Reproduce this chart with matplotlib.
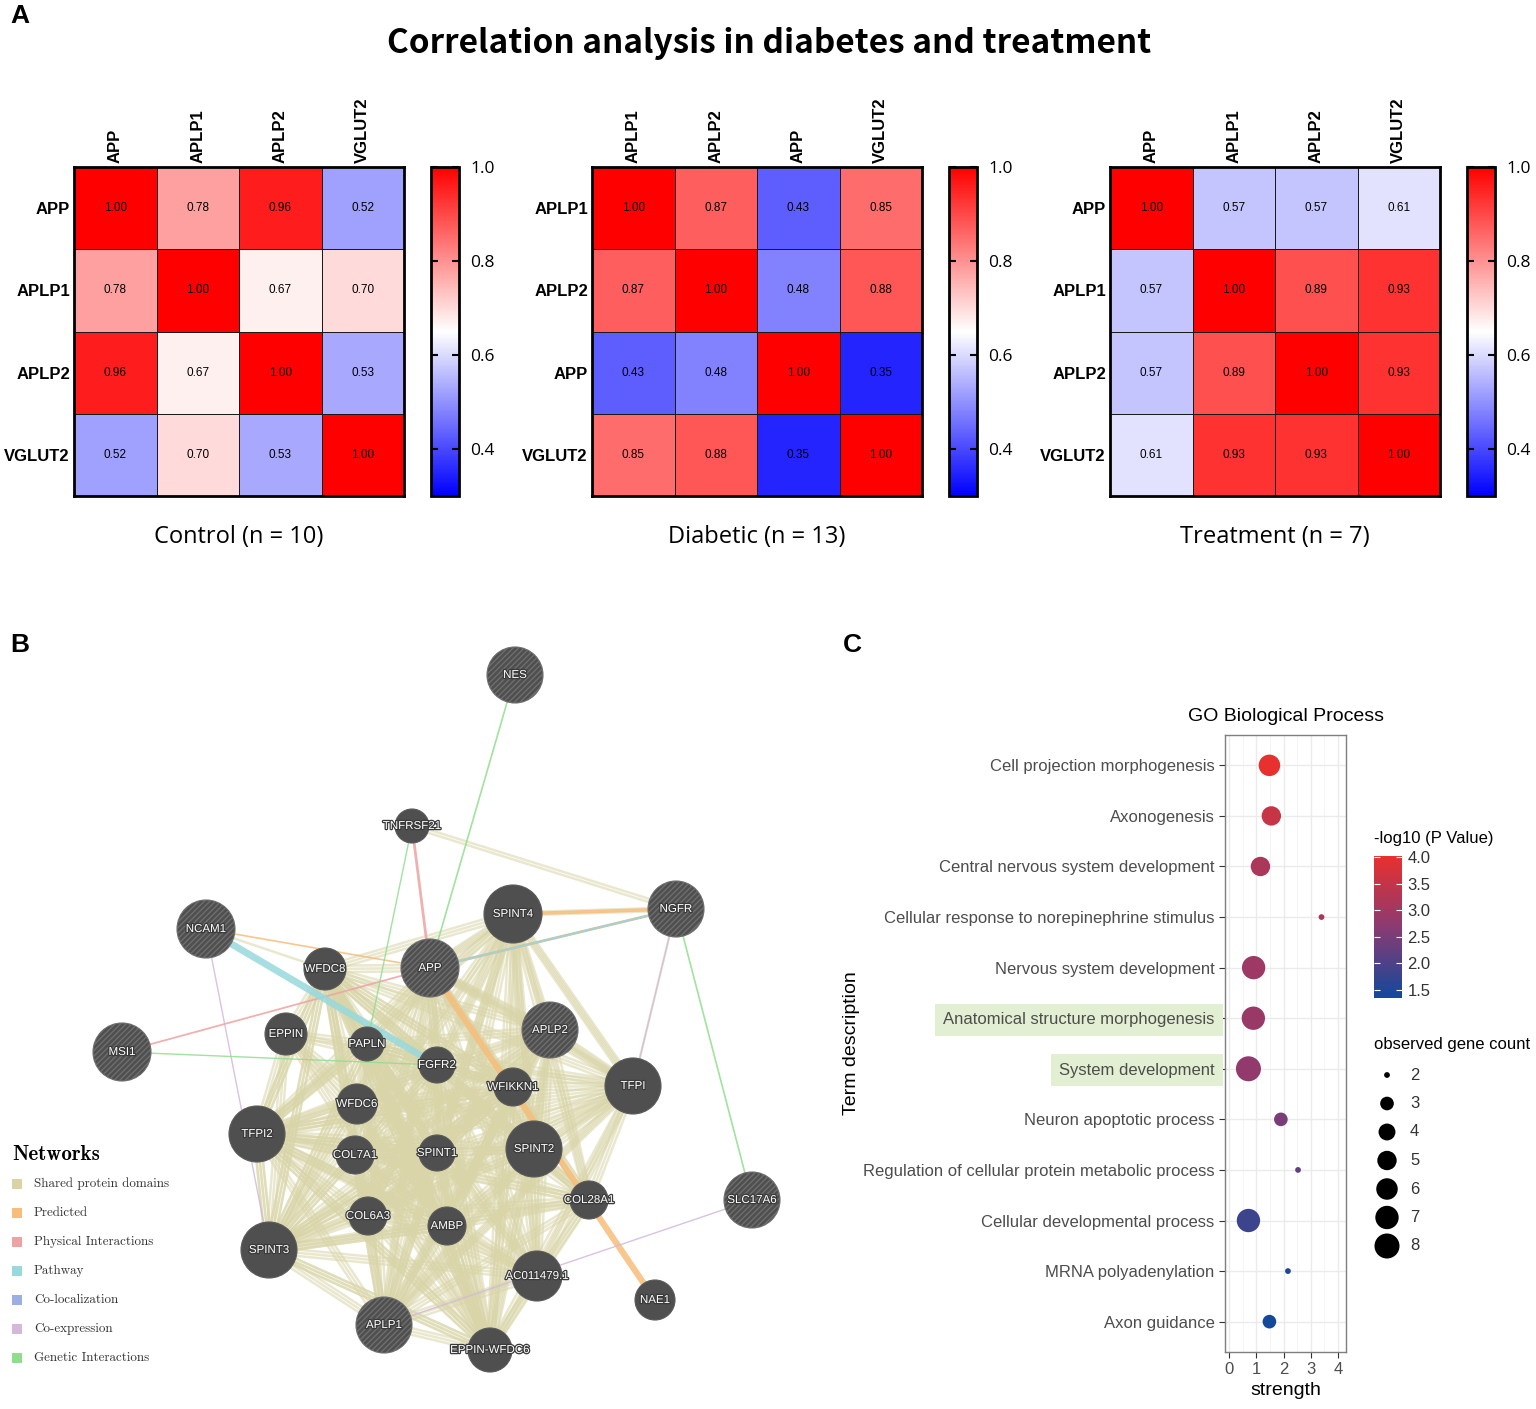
import itertools
import numpy as np
import matplotlib
matplotlib.use("Agg")
import matplotlib.pyplot as plt
import matplotlib.patheffects as pe
from matplotlib.colors import LinearSegmentedColormap, Normalize
from matplotlib.patches import Circle, Rectangle

plt.rcParams['font.family'] = 'Liberation Sans'
plt.rcParams['hatch.linewidth'] = 1.0

# ---------------- data: panel A ----------------
control_genes = ["APP", "APLP1", "APLP2", "VGLUT2"]
control_corr = [[1.00, 0.78, 0.96, 0.52],
                [0.78, 1.00, 0.67, 0.70],
                [0.96, 0.67, 1.00, 0.53],
                [0.52, 0.70, 0.53, 1.00]]

diabetic_genes = ["APLP1", "APLP2", "APP", "VGLUT2"]
diabetic_corr = [[1.00, 0.87, 0.43, 0.85],
                 [0.87, 1.00, 0.48, 0.88],
                 [0.43, 0.48, 1.00, 0.35],
                 [0.85, 0.88, 0.35, 1.00]]

treatment_genes = ["APP", "APLP1", "APLP2", "VGLUT2"]
treatment_corr = [[1.00, 0.57, 0.57, 0.61],
                  [0.57, 1.00, 0.89, 0.93],
                  [0.57, 0.89, 1.00, 0.93],
                  [0.61, 0.93, 0.93, 1.00]]

group_titles = ["Control (n = 10)", "Diabetic (n = 13)", "Treatment (n = 7)"]

# ---------------- data: panel B (GeneMANIA layout) ----------------
gene_names = ["NES", "TNFRSF21", "NGFR", "SPINT4", "NCAM1", "WFDC8", "APP", "APLP2",
              "EPPIN", "PAPLN", "MSI1", "FGFR2", "WFIKKN1", "TFPI", "WFDC6", "TFPI2",
              "COL7A1", "SPINT1", "SPINT2", "COL28A1", "SLC17A6", "COL6A3", "AMBP",
              "SPINT3", "AC011479.1", "NAE1", "APLP1", "EPPIN-WFDC6"]
gene_x = [515, 412, 676, 513, 206, 325, 430, 550, 286, 367, 122, 437, 513, 633, 357, 257,
          355, 437, 534, 589, 752, 368, 447, 269, 537, 655, 384, 490]
gene_y = [675, 826, 909, 914, 929, 969, 968, 1030, 1034, 1044, 1052, 1065, 1087, 1086, 1104,
          1134, 1155, 1153, 1149, 1200, 1200, 1216, 1226, 1250, 1276, 1300, 1325, 1350]
gene_r = [28, 17, 28, 29, 29, 21, 29, 28, 21, 17, 29, 18, 19, 28, 20, 28,
          19, 18, 28, 19, 28, 19, 19, 28, 25, 20, 28, 22]
query_genes = ["NES", "NGFR", "NCAM1", "APP", "APLP2", "MSI1", "SLC17A6", "APLP1"]

# shared protein domain groups (each group is a clique) and number of domain sources
domain_groups = [
    ["APP", "APLP2", "APLP1", "SPINT1", "SPINT2", "SPINT3", "SPINT4", "TFPI", "TFPI2",
     "AMBP", "COL7A1", "COL6A3", "COL28A1", "WFIKKN1", "PAPLN", "AC011479.1",
     "EPPIN-WFDC6", "WFDC8", "FGFR2"],
    ["WFDC8", "WFDC6", "EPPIN", "EPPIN-WFDC6", "WFIKKN1", "PAPLN", "SPINT3", "TFPI2",
     "SPINT1", "AMBP"],
    ["APP", "APLP1", "APLP2", "SPINT4", "SPINT2", "TFPI"],
    ["TNFRSF21", "NGFR"],
    ["NGFR", "SPINT4"],
    ["NGFR", "TFPI"],
    ["NCAM1", "WFDC8"],
]
domain_sources = [3, 3, 2, 2, 2, 1, 1]

network_types = ["Shared protein domains", "Predicted", "Physical Interactions", "Pathway",
                 "Co-localization", "Co-expression", "Genetic Interactions"]
network_colors = ["#d8d4a4", "#f7bd7a", "#eda3a3", "#97d9dc", "#9caee3", "#d3b8dc", "#91dd8e"]

other_edges = [  # (a, b, network type, width)
    ("APP", "NAE1", "Predicted", 4.5),
    ("NGFR", "APP", "Predicted", 2.0),
    ("NGFR", "SPINT4", "Predicted", 2.5),
    ("NCAM1", "APP", "Predicted", 1.2),
    ("TNFRSF21", "APP", "Physical Interactions", 2.0),
    ("MSI1", "APP", "Physical Interactions", 1.3),
    ("NGFR", "APP", "Physical Interactions", 1.3),
    ("NCAM1", "FGFR2", "Pathway", 5.0),
    ("NGFR", "APP", "Pathway", 1.5),
    ("NCAM1", "SPINT3", "Co-expression", 1.0),
    ("SLC17A6", "APLP1", "Co-expression", 1.0),
    ("NGFR", "TFPI", "Co-expression", 1.0),
    ("NES", "APP", "Genetic Interactions", 1.2),
    ("NGFR", "SLC17A6", "Genetic Interactions", 1.2),
    ("MSI1", "FGFR2", "Genetic Interactions", 1.0),
    ("TNFRSF21", "PAPLN", "Genetic Interactions", 1.0),
]

# ---------------- data: panel C ----------------
go_terms = ["Cell projection morphogenesis", "Axonogenesis",
            "Central nervous system development",
            "Cellular response to norepinephrine stimulus", "Nervous system development",
            "Anatomical structure morphogenesis", "System development",
            "Neuron apoptotic process", "Regulation of cellular protein metabolic process",
            "Cellular developmental process", "MRNA polyadenylation", "Axon guidance"]
go_strength = [1.48, 1.55, 1.15, 3.39, 0.90, 0.89, 0.71, 1.90, 2.53, 0.71, 2.16, 1.48]
go_logp = [4.02, 3.55, 3.15, 3.20, 2.95, 2.90, 2.80, 2.50, 2.20, 1.80, 1.45, 1.35]
go_count = [6, 5, 5, 2, 7, 7, 8, 3, 2, 7, 2, 3]
highlighted_terms = ["Anatomical structure morphogenesis", "System development"]
count_breaks = [2, 3, 4, 5, 6, 7, 8]

W, H = 1536, 1409
fig = plt.figure(figsize=(W / 100, H / 100), dpi=100)


def px_axes(x0, y0, x1, y1):
    return fig.add_axes([x0 / W, 1 - y1 / H, (x1 - x0) / W, (y1 - y0) / H])


# ---------------- Panel A: heatmaps ----------------
fig.text(10 / W, 1 - 16 / H, "A", fontsize=19, fontweight="bold", va="center", ha="left")
fig.text(769 / W, 1 - 44 / H, "Correlation analysis in diabetes and treatment",
         fontsize=24, fontweight="bold", family="Noto Sans CJK SC", ha="center", va="center")

heat_sets = [(control_genes, control_corr), (diabetic_genes, diabetic_corr),
             (treatment_genes, treatment_corr)]
heat_left = [74, 592, 1110]
norm = Normalize(vmin=0.3, vmax=1.0)
for k, (genes, corr) in enumerate(heat_sets):
    x0 = heat_left[k]
    ax = px_axes(x0, 167, x0 + 330, 496)
    data = np.array(corr)
    mesh = ax.pcolormesh(data, cmap="bwr", norm=norm, edgecolors="#1a1a1a", linewidth=0.7)
    ax.set_xlim(0, 4)
    ax.set_ylim(4, 0)
    for i in range(4):
        for j in range(4):
            ax.text(j + 0.5, i + 0.5, f"{data[i, j]:.2f}", ha="center", va="center",
                    fontsize=8.5, color="black")
    ax.xaxis.tick_top()
    ax.set_xticks(np.arange(4) + 0.5)
    ax.set_xticklabels(genes, rotation=90, fontsize=12, fontweight="bold")
    ax.set_yticks(np.arange(4) + 0.5)
    ax.set_yticklabels(genes, fontsize=12, fontweight="bold")
    ax.tick_params(length=0, pad=3)
    for s in ax.spines.values():
        s.set_linewidth(2)
    ax.text(0.5, -0.125, group_titles[k], transform=ax.transAxes, ha="center", va="center",
            fontsize=17, family="Open Sans")

    cax = px_axes(x0 + 357, 167, x0 + 385, 496)
    cb = fig.colorbar(mesh, cax=cax, ticks=[0.4, 0.6, 0.8, 1.0])
    cb.ax.set_yticklabels(["0.4", "0.6", "0.8", "1.0"], family="Open Sans", fontsize=12.5)
    cb.ax.tick_params(direction="in", left=True, right=True, length=5, width=1.5, pad=8)
    cb.outline.set_linewidth(2)

# ---------------- Panel B: network ----------------
fig.text(10 / W, 1 - 645 / H, "B", fontsize=19, fontweight="bold", va="center", ha="left")
axn = px_axes(0, 640, 820, H)
axn.set_xlim(0, 820)
axn.set_ylim(H, 640)
axn.axis("off")

pos = {g: np.array([x, y], float) for g, x, y in zip(gene_names, gene_x, gene_y)}
type_color = dict(zip(network_types, network_colors))

for grp, nsrc in zip(domain_groups, domain_sources):
    for a, b in itertools.combinations(grp, 2):
        pa, pb = pos[a], pos[b]
        d = pb - pa
        perp = np.array([-d[1], d[0]]) / np.hypot(*d)
        for m in range(nsrc):
            off = (m - (nsrc - 1) / 2) * 3.2
            qa, qb = pa + perp * off, pb + perp * off
            axn.plot([qa[0], qb[0]], [qa[1], qb[1]], color="#d9d5a8", lw=1.8, alpha=0.55,
                     solid_capstyle="butt", zorder=1)
for a, b, t, w in other_edges:
    (xa, ya), (xb, yb) = pos[a], pos[b]
    axn.plot([xa, xb], [ya, yb], color=type_color[t], lw=w, alpha=0.85, zorder=2)

for g, x, y, r in zip(gene_names, gene_x, gene_y, gene_r):
    if g in query_genes:
        c = Circle((x, y), r, facecolor="#4f4f4f", edgecolor="#6e6e6e", hatch="//////",
                   lw=0.8, zorder=3)
    else:
        c = Circle((x, y), r, facecolor="#4f4f4f", edgecolor="#5a5a5a", lw=0.8, zorder=3)
    axn.add_patch(c)
    axn.text(x, y, g, ha="center", va="center", color="white", fontsize=8.3, zorder=4,
             path_effects=[pe.withStroke(linewidth=1.8, foreground="#3a3a3a")])

axn.text(12, 1155, "Networks", family="cmb10", fontsize=15, va="center", ha="left")
for i, (t, c) in enumerate(zip(network_types, network_colors)):
    yy = 1184 + i * 29
    axn.add_patch(Rectangle((12, yy - 5), 10, 10, facecolor=c, edgecolor="none"))
    axn.text(34, yy, t, family="cmr10", fontsize=9.4, va="center", ha="left", color="#333333")

# ---------------- Panel C: GO dot plot ----------------
fig.text(843 / W, 1 - 645 / H, "C", fontsize=19, fontweight="bold", va="center", ha="left")
axc = px_axes(1225, 735, 1346, 1352)
go_cmap = LinearSegmentedColormap.from_list("go", ["#13489b", "#8a3b72", "#e8302e"])
go_norm = Normalize(vmin=1.35, vmax=4.02)


def size_to_pts2(c):
    d_px = 3.85 * (1 + 5 * np.sqrt((np.asarray(c, float) - 2) / 6) + 0.5)
    return (d_px * 0.72) ** 2


yvals = np.arange(len(go_terms), 0, -1)
axc.set_axisbelow(True)
sc = axc.scatter(go_strength, yvals, s=size_to_pts2(go_count), c=go_logp, cmap=go_cmap,
                 norm=go_norm, edgecolors="none", zorder=3)
axc.set_xlim(-0.15, 4.29)
axc.set_ylim(0.4, 12.6)
axc.set_xticks([0, 1, 2, 3, 4])
axc.set_xticks([0.5, 1.5, 2.5, 3.5], minor=True)
axc.set_yticks(yvals)
axc.set_yticklabels(go_terms, fontsize=12, color="#4d4d4d")
axc.tick_params(axis="x", labelsize=12, labelcolor="#4d4d4d", colors="#333333", length=4)
axc.tick_params(axis="y", colors="#333333", labelcolor="#4d4d4d", length=4)
axc.tick_params(axis="x", which="minor", length=0)
axc.grid(True, which="major", color="#ebebeb", lw=1.0)
axc.grid(True, which="minor", axis="x", color="#f2f2f2", lw=0.6)
for s in axc.spines.values():
    s.set_color("#7f7f7f")
    s.set_linewidth(1.0)
for lab in axc.get_yticklabels():
    if lab.get_text() in highlighted_terms:
        lab.set_bbox(dict(facecolor="#e2efd2", edgecolor="none", pad=6))
axc.set_xlabel("strength", fontsize=14, labelpad=3)
axc.set_ylabel("Term description", fontsize=14, labelpad=2)
axc.set_title("GO Biological Process", fontsize=14, pad=10)

ccax = px_axes(1374, 856, 1402, 998)
cb2 = fig.colorbar(sc, cax=ccax, ticks=[1.5, 2.0, 2.5, 3.0, 3.5, 4.0])
cb2.outline.set_visible(False)
cb2.ax.set_yticklabels(["1.5", "2.0", "2.5", "3.0", "3.5", "4.0"], fontsize=12,
                       color="#333333")
cb2.ax.tick_params(direction="in", left=True, right=True, colors="white", length=4,
                   width=0.8, labelcolor="#333333", pad=4)
fig.text(1374 / W, 1 - 838 / H, "-log10 (P Value)", fontsize=12, va="center", ha="left")

fig.text(1374 / W, 1 - 1044 / H, "observed gene count", fontsize=12, va="center", ha="left")
lax = px_axes(1370, 1060, 1440, 1260)
lax.set_xlim(1370, 1440)
lax.set_ylim(1260, 1060)
lax.axis("off")
for i, c in enumerate(count_breaks):
    yy = 1075 + i * 28.5
    lax.scatter([1387], [yy], s=size_to_pts2(c), color="black", edgecolors="none")
    lax.text(1410, yy, str(c), fontsize=12, va="center", ha="left", color="#333333")

fig.savefig("out.png", dpi=100)
